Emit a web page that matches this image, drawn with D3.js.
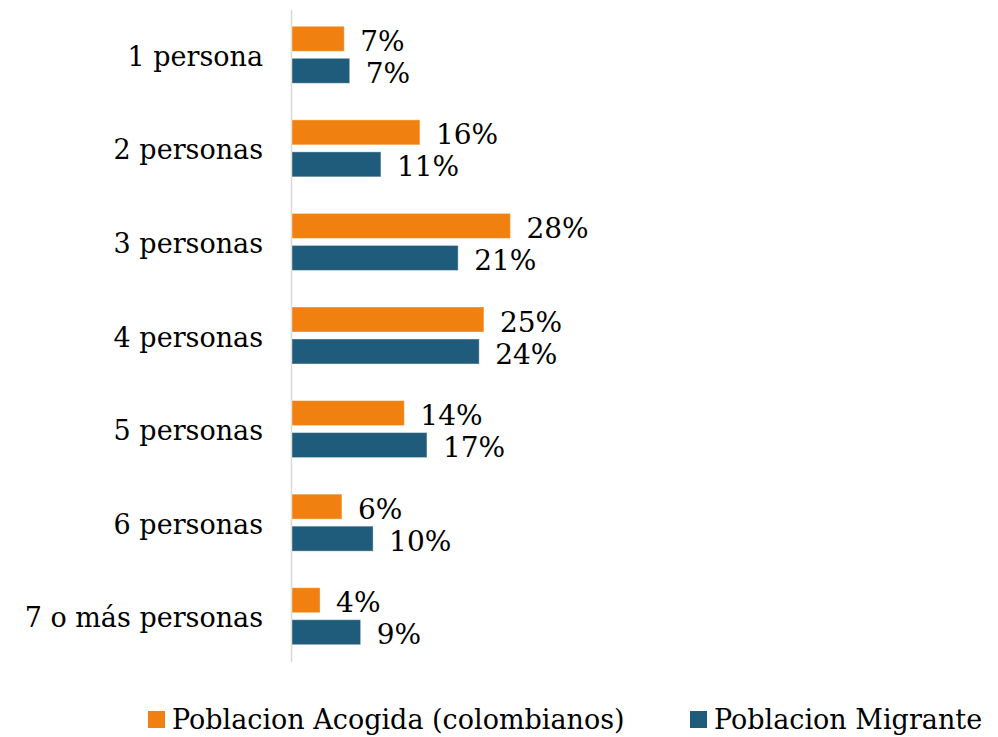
<!DOCTYPE html>
<html>
<head>
<meta charset="utf-8">
<script src="https://cdn.jsdelivr.net/npm/d3@7"></script>
<style>
  body { margin: 0; background: #fff; }
  svg text { font-family: "DejaVu Serif", serif; fill: #000; }
</style>
</head>
<body>
<div id="chart"></div>
<script>
const categories = ["1 persona", "2 personas", "3 personas", "4 personas", "5 personas", "6 personas", "7 o más personas"];
const acogida = [6.7, 16.4, 28.0, 24.6, 14.4, 6.4, 3.6];
const migrante = [7.4, 11.4, 21.3, 24.0, 17.3, 10.4, 8.8];
const seriesNames = ["Poblacion Acogida (colombianos)", "Poblacion Migrante"];
const colors = ["#F0800F", "#1F5B7B"];

const width = 998, height = 737;
const svg = d3.select("#chart").append("svg")
  .attr("width", width).attr("height", height);

// 7.8 px per percentage point, zero at the axis line
const x = d3.scaleLinear().domain([0, 100]).range([292, 292 + 780]);
const y = d3.scaleBand().domain(categories).range([8, 663]);

const barH = 25, gap = 7;

// axis line
svg.append("line")
  .attr("x1", 291.5).attr("x2", 291.5)
  .attr("y1", 10).attr("y2", 662)
  .attr("stroke", "#d9d9d9").attr("stroke-width", 1.5);

const groups = svg.selectAll("g.cat")
  .data(categories)
  .join("g")
  .attr("class", "cat")
  .attr("transform", d => `translate(0,${y(d) + y.bandwidth() / 2})`);

groups.append("text")
  .attr("x", 263).attr("y", 11)
  .attr("text-anchor", "end")
  .style("font-size", "27px")
  .text(d => d);

[acogida, migrante].forEach(function (vals, s) {
  const yOff = s === 0 ? -(barH + gap / 2) : gap / 2;
  groups.append("rect")
    .attr("x", x(0))
    .attr("y", yOff)
    .attr("width", (d, i) => x(vals[i]) - x(0))
    .attr("height", barH)
    .attr("fill", colors[s])
    .attr("stroke", "#ffffff").attr("stroke-opacity", 0.4).attr("stroke-width", 1);
  groups.append("text")
    .attr("x", (d, i) => x(vals[i]) + 16)
    .attr("y", yOff + barH / 2 + 12)
    .style("font-size", "28px")
    .text((d, i) => Math.round(vals[i]) + "%");
});

// legend
const legendX = [148, 690];
seriesNames.forEach(function (name, s) {
  svg.append("rect")
    .attr("x", legendX[s]).attr("y", 711)
    .attr("width", 17).attr("height", 17)
    .attr("fill", colors[s]);
  svg.append("text")
    .attr("x", legendX[s] + 24).attr("y", 729)
    .style("font-size", "27px")
    .text(name);
});
</script>
</body>
</html>
